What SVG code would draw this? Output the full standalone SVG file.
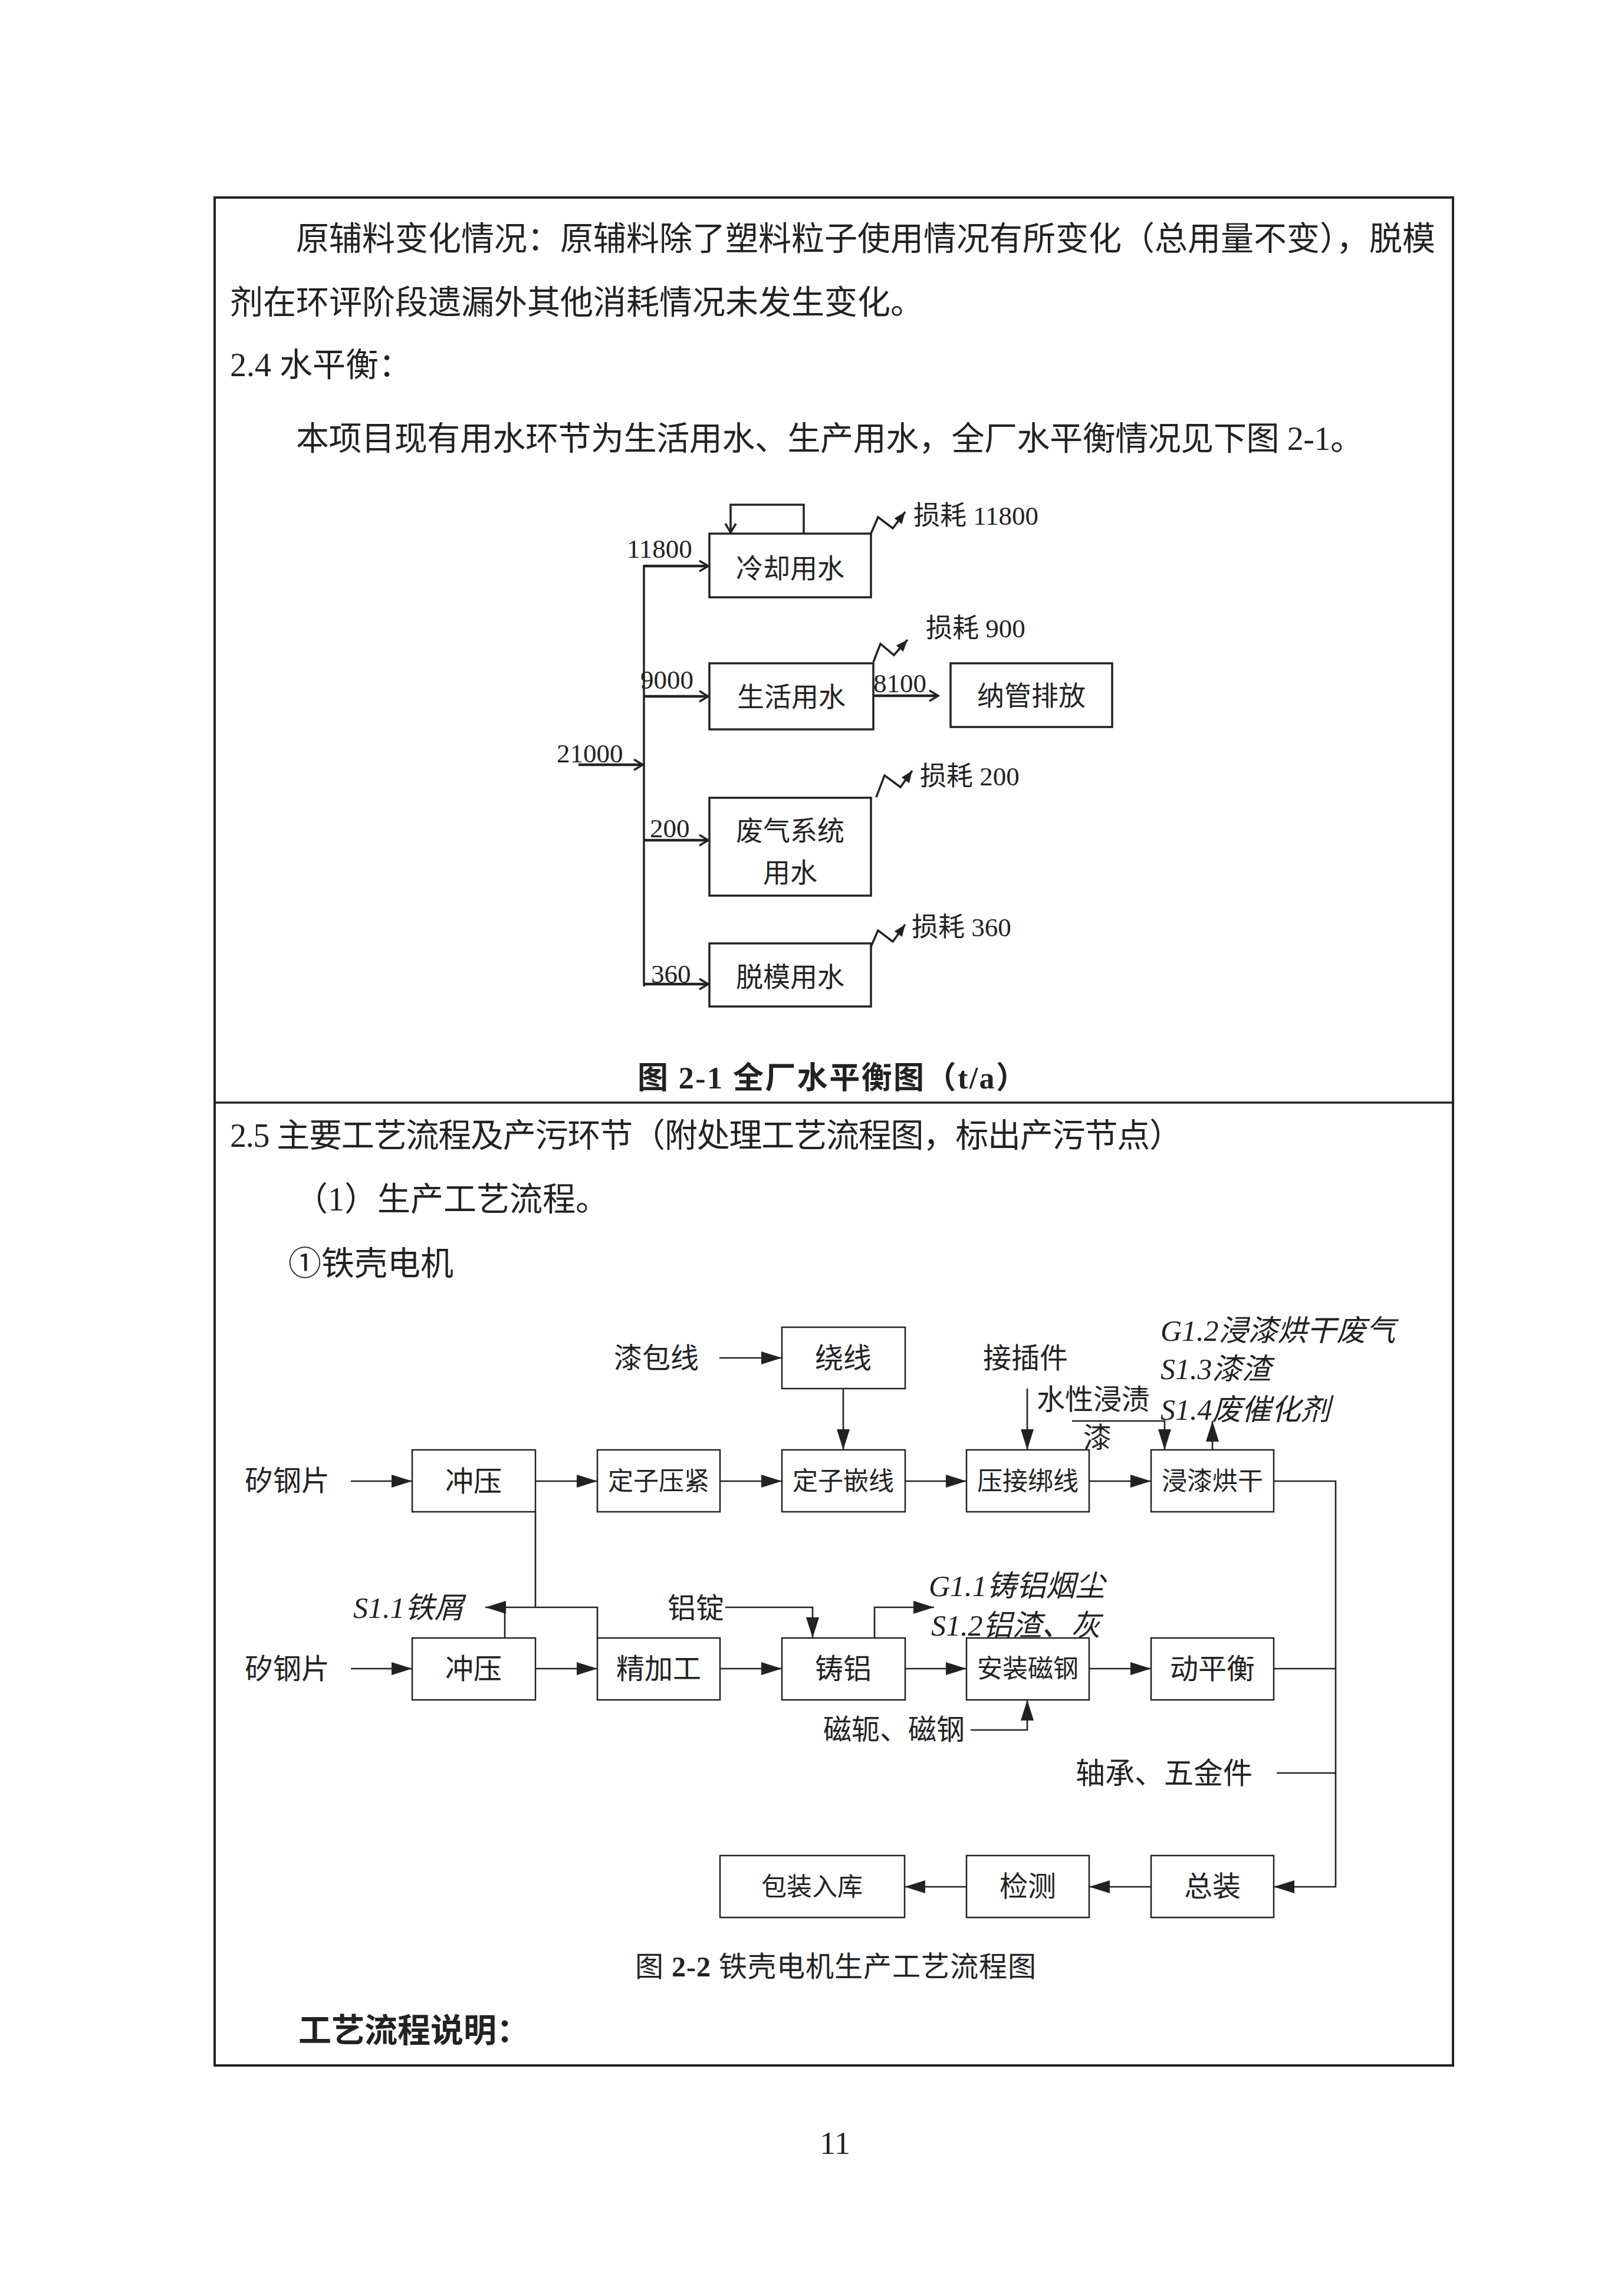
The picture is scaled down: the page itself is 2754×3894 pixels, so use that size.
<svg xmlns="http://www.w3.org/2000/svg" width="2754" height="3894" viewBox="0 0 2754 3894">
<style>
text{font-family:"Liberation Serif","Noto Sans CJK SC",serif;fill:#222}
.p{font-size:56px}
.n{font-size:45px}
.l{font-size:45px}
.bt{font-size:46px;text-anchor:middle}
.ft{font-size:48px}
.fc{font-size:48px;text-anchor:middle}
.f4{font-size:43px;text-anchor:middle}
.it{font-size:50px;font-style:italic}
.wb{fill:#fff;stroke:#222;stroke-width:3.5}
.fb{fill:#fff;stroke:#222;stroke-width:2.5}
.wl{fill:none;stroke:#222;stroke-width:4.5}
.wt{fill:none;stroke:#222;stroke-width:3.5}
.fl{fill:none;stroke:#222;stroke-width:2.6}
.b{font-weight:bold}
</style>
<defs>
<marker id="wa" markerUnits="userSpaceOnUse" markerWidth="22" markerHeight="22" refX="16" refY="10" orient="auto" overflow="visible">
<path d="M1,1 L16,10 L1,19" fill="none" stroke="#222" stroke-width="3.5"/>
</marker>
<marker id="za" markerUnits="userSpaceOnUse" markerWidth="22" markerHeight="18" refX="20" refY="9" orient="auto" overflow="visible">
<path d="M0,1 L20,9 L0,17 Z" fill="#222"/>
</marker>
<marker id="fa" markerUnits="userSpaceOnUse" markerWidth="36" markerHeight="22" refX="35" refY="11" orient="auto" overflow="visible">
<path d="M0,0 L35,11 L0,22 Z" fill="#222"/>
</marker>
</defs>
<rect width="2754" height="3894" fill="#fff"/>
<g id="frame">
<rect x="364" y="335" width="2100" height="3168" fill="none" stroke="#222" stroke-width="4"/>
<line x1="364" y1="1870" x2="2464" y2="1870" stroke="#222" stroke-width="3.5"/>
</g>
<g id="body-text">
<text class="p" x="502" y="424" textLength="1932" lengthAdjust="spacing">原辅料变化情况：原辅料除了塑料粒子使用情况有所变化（总用量不变），脱模</text>
<text class="p" x="390" y="532">剂在环评阶段遗漏外其他消耗情况未发生变化。</text>
<text class="p" x="390" y="638">2.4 水平衡：</text>
<text class="p" x="502" y="763" textLength="1810" lengthAdjust="spacing">本项目现有用水环节为生活用水、生产用水，全厂水平衡情况见下图 2-1。</text>
<text class="p b" x="1081" y="1846" style="font-size:52px" textLength="660" lengthAdjust="spacing">图 2-1  全厂水平衡图（t/a）</text>
<text class="p" x="390" y="1945" textLength="1615" lengthAdjust="spacing">2.5 主要工艺流程及产污环节（附处理工艺流程图，标出产污节点）</text>
<text class="p" x="500" y="2053">（1）生产工艺流程。</text>
<text class="p" x="489" y="2162">①铁壳电机</text>
<text class="p" x="1077" y="3352" style="font-size:48px" textLength="680" lengthAdjust="spacing">图 <tspan class="b">2-2</tspan>  铁壳电机生产工艺流程图</text>
<text class="p b" x="506" y="3463">工艺流程说明：</text>
<text x="1416" y="3653" style="font-size:54px;text-anchor:middle">11</text>
</g>
<g id="water-connectors">
<line class="wt" x1="1092" y1="958" x2="1092" y2="1673"/>
<line class="wl" x1="1092" y1="960" x2="1201" y2="960" marker-end="url(#wa)"/>
<line class="wl" x1="1092" y1="1181" x2="1201" y2="1181" marker-end="url(#wa)"/>
<line class="wl" x1="1092" y1="1425" x2="1201" y2="1425" marker-end="url(#wa)"/>
<line class="wl" x1="1092" y1="1669" x2="1201" y2="1669" marker-end="url(#wa)"/>
<line class="wl" x1="981" y1="1297" x2="1090" y2="1297" marker-end="url(#wa)"/>
<line class="wl" x1="1481" y1="1180" x2="1591" y2="1180" marker-end="url(#wa)"/>
<path class="wt" d="M1363,905 V856 H1239 V903" marker-end="url(#wa)"/>
<polyline class="wt" points="1477,905 1489,877 1514,896 1535,868" marker-end="url(#za)"/>
<polyline class="wt" points="1481,1123 1493,1092 1516,1111 1539,1085" marker-end="url(#za)"/>
<polyline class="wt" points="1486,1352 1500,1315 1527,1335 1547,1307" marker-end="url(#za)"/>
<polyline class="wt" points="1475,1610 1489,1578 1514,1597 1535,1568" marker-end="url(#za)"/>
<text class="n" x="1063" y="946">11800</text>
<text class="n" x="1086" y="1168">9000</text>
<text class="n" x="1102" y="1420">200</text>
<text class="n" x="1104" y="1667">360</text>
<text class="n" x="944" y="1293">21000</text>
<text class="n" x="1481" y="1174">8100</text>
<text class="l" x="1549" y="890">损耗 11800</text>
<text class="l" x="1570" y="1081">损耗 900</text>
<text class="l" x="1560" y="1332">损耗 200</text>
<text class="l" x="1546" y="1588">损耗 360</text>
</g>
<g id="w-cooling"><rect class="wb" x="1203" y="905" width="274" height="108"/><text class="bt" x="1340" y="980">冷却用水</text></g>
<g id="w-living"><rect class="wb" x="1203" y="1125" width="278" height="112"/><text class="bt" x="1342" y="1198">生活用水</text></g>
<g id="w-sewer"><rect class="wb" x="1612" y="1125" width="274" height="108"/><text class="bt" x="1749" y="1196">纳管排放</text></g>
<g id="w-gas"><rect class="wb" x="1203" y="1353" width="274" height="166"/><text class="bt" x="1340" y="1425">废气系统</text><text class="bt" x="1340" y="1496">用水</text></g>
<g id="w-demold"><rect class="wb" x="1203" y="1600" width="274" height="107"/><text class="bt" x="1340" y="1673">脱模用水</text></g>

<g id="flow-connectors">
<line class="fl" x1="595" y1="2512" x2="699" y2="2512" marker-end="url(#fa)"/>
<line class="fl" x1="908" y1="2512" x2="1013" y2="2512" marker-end="url(#fa)"/>
<line class="fl" x1="1221" y1="2512" x2="1326" y2="2512" marker-end="url(#fa)"/>
<line class="fl" x1="1535" y1="2512" x2="1639" y2="2512" marker-end="url(#fa)"/>
<line class="fl" x1="1847" y1="2512" x2="1952" y2="2512" marker-end="url(#fa)"/>
<line class="fl" x1="1220" y1="2303" x2="1326" y2="2303" marker-end="url(#fa)"/>
<line class="fl" x1="1430" y1="2355" x2="1430" y2="2459" marker-end="url(#fa)"/>
<line class="fl" x1="1742" y1="2355" x2="1742" y2="2459" marker-end="url(#fa)"/>
<path class="fl" d="M1818,2410 H1975 V2459" marker-end="url(#fa)"/>
<line class="fl" x1="2056" y1="2459" x2="2056" y2="2410" marker-end="url(#fa)"/>
<path class="fl" d="M2160,2512 H2265 V3200 H2160" marker-end="url(#fa)"/>
<line class="fl" x1="595" y1="2830" x2="699" y2="2830" marker-end="url(#fa)"/>
<line class="fl" x1="908" y1="2830" x2="1013" y2="2830" marker-end="url(#fa)"/>
<line class="fl" x1="1221" y1="2830" x2="1326" y2="2830" marker-end="url(#fa)"/>
<line class="fl" x1="1535" y1="2830" x2="1639" y2="2830" marker-end="url(#fa)"/>
<line class="fl" x1="1847" y1="2830" x2="1952" y2="2830" marker-end="url(#fa)"/>
<line class="fl" x1="2160" y1="2830" x2="2265" y2="2830"/>
<line class="fl" x1="908" y1="2564" x2="908" y2="2726"/>
<path class="fl" d="M1013,2778 V2726 H823" marker-end="url(#fa)"/>
<line class="fl" x1="856" y1="2778" x2="856" y2="2726"/>
<path class="fl" d="M1230,2726 H1378 V2778" marker-end="url(#fa)"/>
<path class="fl" d="M1483,2778 V2726 H1584" marker-end="url(#fa)"/>
<path class="fl" d="M1646,2934 H1742 V2883" marker-end="url(#fa)"/>
<line class="fl" x1="2165" y1="3007" x2="2265" y2="3007"/>
<line class="fl" x1="1952" y1="3200" x2="1847" y2="3200" marker-end="url(#fa)"/>
<line class="fl" x1="1639" y1="3200" x2="1534" y2="3200" marker-end="url(#fa)"/>
<text class="ft" x="415" y="2528">矽钢片</text>
<text class="ft" x="415" y="2847">矽钢片</text>
<text class="ft" x="1041" y="2320">漆包线</text>
<text class="ft" x="1667" y="2320">接插件</text>
<text class="ft" x="1758" y="2390">水性浸渍</text>
<text class="ft" x="1837" y="2455">漆</text>
<text class="it" x="1968" y="2274">G1.2浸漆烘干废气</text>
<text class="it" x="1968" y="2339">S1.3漆渣</text>
<text class="it" x="1968" y="2408">S1.4废催化剂</text>
<text class="it" x="599" y="2744">S1.1铁屑</text>
<text class="ft" x="1132" y="2744">铝锭</text>
<text class="it" x="1575" y="2707">G1.1铸铝烟尘</text>
<text class="it" x="1579" y="2774">S1.2铝渣、灰</text>
<text class="ft" x="1396" y="2950">磁轭、磁钢</text>
<text class="ft" x="1824" y="3025" style="font-size:50px">轴承、五金件</text>
</g>
<g id="f-raoxian"><rect class="fb" x="1326" y="2251" width="209" height="104"/><text class="fc" x="1430" y="2320">绕线</text></g>
<g id="f-chongya1"><rect class="fb" x="699" y="2459" width="209" height="105"/><text class="fc" x="803" y="2529">冲压</text></g>
<g id="f-yajin"><rect class="fb" x="1013" y="2459" width="208" height="105"/><text class="f4" x="1117" y="2527">定子压紧</text></g>
<g id="f-qianxian"><rect class="fb" x="1326" y="2459" width="209" height="105"/><text class="f4" x="1430" y="2527">定子嵌线</text></g>
<g id="f-bangxian"><rect class="fb" x="1639" y="2459" width="208" height="105"/><text class="f4" x="1743" y="2527">压接绑线</text></g>
<g id="f-hongan"><rect class="fb" x="1952" y="2459" width="208" height="105"/><text class="f4" x="2056" y="2527">浸漆烘干</text></g>
<g id="f-chongya2"><rect class="fb" x="699" y="2778" width="209" height="105"/><text class="fc" x="803" y="2847">冲压</text></g>
<g id="f-jingjia"><rect class="fb" x="1013" y="2778" width="208" height="105"/><text class="fc" x="1117" y="2847">精加工</text></g>
<g id="f-zhulv"><rect class="fb" x="1326" y="2778" width="209" height="105"/><text class="fc" x="1430" y="2847">铸铝</text></g>
<g id="f-cigang"><rect class="fb" x="1639" y="2778" width="208" height="105"/><text class="f4" x="1743" y="2845">安装磁钢</text></g>
<g id="f-dongping"><rect class="fb" x="1952" y="2778" width="208" height="105"/><text class="fc" x="2056" y="2847">动平衡</text></g>
<g id="f-baozhuang"><rect class="fb" x="1221" y="3147" width="313" height="105"/><text class="f4" x="1377" y="3215">包装入库</text></g>
<g id="f-jiance"><rect class="fb" x="1639" y="3147" width="208" height="105"/><text class="fc" x="1743" y="3216">检测</text></g>
<g id="f-zongzhuang"><rect class="fb" x="1952" y="3147" width="208" height="105"/><text class="fc" x="2056" y="3216">总装</text></g>
</svg>
